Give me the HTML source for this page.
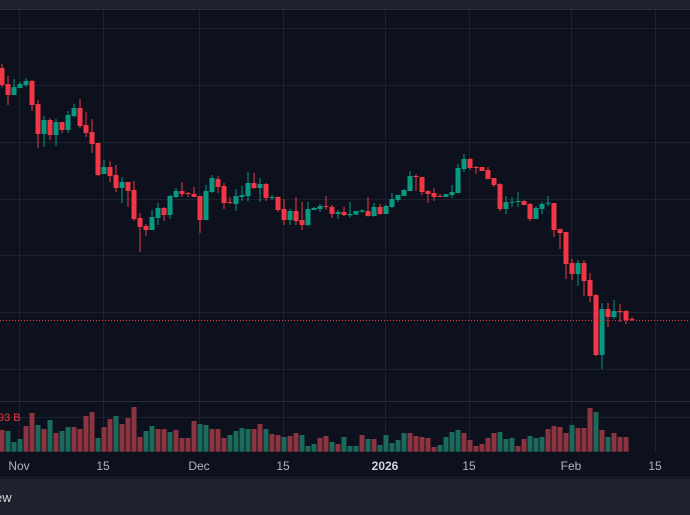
<!DOCTYPE html>
<html><head><meta charset="utf-8"><style>
html,body{margin:0;padding:0;background:#0c111d;width:690px;height:515px;overflow:hidden}
svg{display:block}
text{font-family:"Liberation Sans",sans-serif}
</style></head><body>
<svg id="s" width="690" height="515" xmlns="http://www.w3.org/2000/svg">
<rect width="690" height="515" fill="#0c111d"/>
<rect width="690" height="9" fill="#1e222d"/>
<rect y="9" width="690" height="1" fill="#2a2e39"/>
<g id="grid" stroke="#1c2230" stroke-width="1"></g>
<line x1="0" y1="401.5" x2="690" y2="401.5" stroke="#2a2e39"/>
<g id="vol"></g>
<g id="c"></g>
<line x1="0" y1="320.5" x2="690" y2="320.5" stroke="#f23645" stroke-width="1" stroke-dasharray="1,2"/>
<text x="-2" y="421" font-size="11" fill="#f23645">93 B</text>
<g font-size="12" fill="#b2b5be" text-anchor="middle">
<text x="19" y="470">Nov</text><text x="103" y="470">15</text><text x="199" y="470">Dec</text><text x="283" y="470">15</text>
<text x="385" y="470" font-weight="bold" fill="#d1d4dc">2026</text><text x="469" y="470">15</text><text x="571" y="470">Feb</text><text x="655" y="470">15</text>
</g>
<rect y="476" width="690" height="3" fill="#161a25"/>
<rect y="479" width="690" height="36" fill="#1e222d"/>
<text x="-5" y="502" font-size="13" fill="#d1d4dc">ew</text>
</svg>
<script>
var NS="http://www.w3.org/2000/svg";
function el(p,t,a){var e=document.createElementNS(NS,t);for(var k in a)e.setAttribute(k,a[k]);p.appendChild(e);return e;}
var g=document.getElementById('grid');
[28,85,142,199,255,312,369,417].forEach(function(y){el(g,'line',{x1:0,x2:690,y1:y+.5,y2:y+.5});});
[19,103,199,283,385,469,571,655].forEach(function(x){el(g,'line',{x1:x+.5,x2:x+.5,y1:10,y2:452});});
var RED="#f23645",GRN="#089981";
// [bodyTop, bodyBot, wickTop, wickBot, color] in zoom coords
var A=[[204,255,192,262,'r'],[252,285,228,315,'r'],[261,285,237,285,'g'],[252,264,246,264,'g'],[243,255,234,261,'g'],[243,315,240,333,'r'],[312,402,300,444,'r'],[360,402,348,441,'g'],[360,405,354,420,'r'],[366,405,357,438,'g'],[366,390,366,399,'r'],[345,390,333,399,'g'],[324,348,312,351,'g'],[324,378,297,384,'r'],[375,399,336,411,'r'],[396,432,357,459,'r'],[429,525,429,528,'r'],[501,522,480,522,'g'],[501,528,483,546,'r'],[525,564,495,576,'r'],[546,564,531,609,'g'],[546,573,546,621,'r'],[570,657,543,663,'r'],[654,681,639,756,'r'],[678,690,672,708,'r'],[651,690,630,690,'g'],[624,654,609,675,'g'],[624,645,621,663,'r'],[588,645,585,657,'g'],[573,591,564,594,'g'],[573,582,546,591,'r'],[579,582,576,591,'r'],[582,591,561,591,'r'],[588,660,588,699,'r'],[573,660,555,660,'g'],[534,576,525,579,'g'],[537,561,528,579,'r'],[558,609,549,627,'r'],[606,609,591,612,'r'],[588,612,567,633,'g'],[585,591,558,603,'g'],[549,588,516,603,'g'],[549,564,519,567,'r'],[552,564,534,606,'g'],[552,594,549,603,'r'],[591,594,585,600,'g'],[591,630,588,636,'r'],[627,660,597,675,'r'],[633,660,627,675,'g'],[633,663,591,675,'r'],[660,675,606,690,'r'],[627,675,606,678,'g'],[624,630,621,630,'g'],[618,627,612,636,'g'],[618,621,588,630,'r'],[621,642,615,654,'r'],[636,642,630,657,'g'],[636,645,621,648,'r']];
var B=[[252,256,216,262,'g'],[243,254,243,254,'g'],[241,245,238,248,'g'],[243,258,201,260,'r'],[231,258,219,260,'g'],[231,252,222,255,'r'],[228,252,225,252,'g'],[207,231,189,234,'g'],[195,210,195,216,'g'],[180,198,177,198,'g'],[138,183,123,183,'g'],[138,141,132,183,'r'],[141,186,141,195,'r'],[183,192,180,219,'r'],[189,201,174,213,'r'],[198,200,192,201,'r'],[192,201,192,201,'g'],[186,195,165,204,'g'],[114,189,102,189,'g'],[87,117,72,126,'g'],[87,114,84,120,'r'],[111,113,108,132,'r'],[111,123,111,123,'r'],[120,147,111,147,'r'],[144,165,144,171,'r'],[162,237,159,243,'r'],[216,237,198,252,'g'],[215,217,201,231,'g'],[213,215,186,231,'g'],[213,225,210,225,'r'],[222,267,219,273,'r'],[234,267,228,267,'g'],[222,237,216,252,'g'],[218,220,198,228,'g'],[219,300,219,321,'r'],[297,309,297,357,'r'],[306,402,306,447,'r'],[399,432,387,450,'r'],[399,432,390,468,'g'],[399,453,390,498,'r'],[450,498,429,516,'r'],[495,675,492,678,'r'],[537,675,519,717,'g'],[537,561,519,591,'r'],[543,561,510,567,'g'],[543,546,522,576,'r'],[543,570,540,582,'r'],[567,570,561,573,'r']];
var C=[];A.forEach(function(a){C.push([a[0]/3,a[1]/3,a[2]/3,a[3]/3,a[4]]);});
B.forEach(function(a){C.push([130+a[0]/3,130+a[1]/3,130+a[2]/3,130+a[3]/3,a[4]]);});
var cg=document.getElementById('c');
C.forEach(function(c,i){var x=2+6*i;var col=c[4]=='r'?RED:GRN;
el(cg,'rect',{x:x-0.5,y:c[2],width:1,height:Math.max(1,c[3]-c[2]),fill:col});
el(cg,'rect',{x:x-2.5,y:c[0],width:5,height:Math.max(1,c[1]-c[0]),fill:col});});
var V="150r 153g 186g 177g 138r 99r 135g 147r 120g 159r 153g 141g 141r 147r 108r 96r 174g 141r 117r 108g 132r 114r 81r 171r 153g 138g 147r 147r 156g 150r 174r 174r 123r 132g 135g 147r 147r 174r 165g 153g 144g 147g 147r 132r 147g 162r 165r 171g 168r 159r 165g 198g 192g 174r 168r 186g 192r 171g 198g 198g 165r 177g 177r 195g 165g 189g 180g 159g 159r 168r 171r 174r 201r 195g 171g 156g 150g 159r 180r 198r 192r 174r 159r 156g 177g 174g 198r 177r 168g 174g 171g 147r 138r 141r 159r 135g 144r 144r 84r 96g 150r 171g 159r 171r 171r".split(' ');
var vg=document.getElementById('vol');
V.forEach(function(v,i){var t=380+parseFloat(v)/3;var x=2+6*i;
el(vg,'rect',{x:x-2.5,y:t,width:5,height:451.7-t,fill:v.slice(-1)=='r'?'#8c3440':'#1b6a5c'});});
</script>
</body></html>
